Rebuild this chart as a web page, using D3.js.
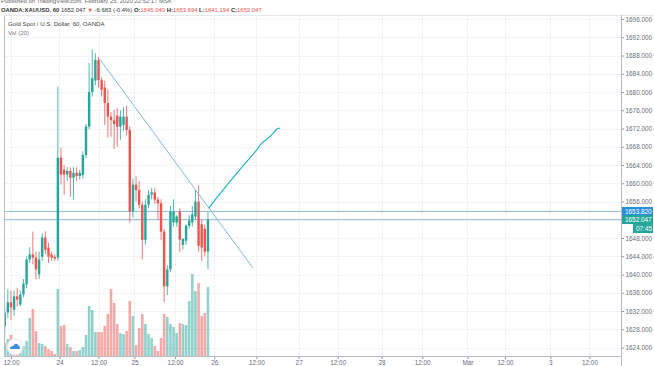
<!DOCTYPE html>
<html>
<head>
<meta charset="utf-8">
<script src="https://cdn.jsdelivr.net/npm/d3@7"></script>
<style>
body { margin: 0; background: #fff; }
text { font-family: "Liberation Sans", Arial, sans-serif; }
</style>
</head>
<body>
<div class="canvas"></div>
<script>
// hourly bars, Feb 21 - Feb 25 2020 (MSK)
const opens  = [1628.6,1631.7,1633.9,1632.3,1635.2,1633.4,1635.6,1637.8,1643.3,1644.4,1643.7,1640.0,1643.9,1648.1,1645.9,1644.4,1643.9,
                1643.7,1665.6,1663.0,1661.9,1662.7,1661.2,1662.3,1661.6,1661.8,1666.2,1672.4,1680.0,1682.5,1687.0,1682.6,1681.0,1677.6,1674.6,1673.8,1674.8,1672.4,1672.8,1674.6,
                1671.7,1653.8,1659.7,1658.5,1655.3,1647.6,1655.3,1657.5,1658.0,1656.4,1655.6,1649.4,1637.4,1641.1,1651.4,1651.4,1653.8,1646.5,1647.4,1650.7,1651.4,1652.7,1656.0,1651.0,1650.0,1645.04];
const highs  = [1633.0,1636.8,1636.5,1636.5,1637.0,1636.5,1639.0,1644.0,1646.0,1649.4,1645.0,1645.0,1649.0,1649.5,1647.0,1645.0,1644.5,
                1681.2,1667.8,1664.0,1663.5,1663.5,1663.5,1663.5,1663.0,1667.0,1673.0,1686.4,1689.4,1688.5,1687.7,1683.2,1682.5,1680.5,1675.6,1676.0,1676.5,1676.0,1676.7,1677.0,
                1672.5,1661.0,1661.5,1660.5,1656.0,1656.5,1658.5,1659.0,1659.0,1657.0,1656.5,1650.0,1642.0,1655.0,1656.5,1653.0,1654.5,1648.0,1651.0,1653.0,1655.0,1658.6,1659.5,1652.0,1651.0,1653.694];
const lows   = [1626.0,1630.5,1630.0,1631.0,1633.0,1633.0,1635.0,1637.0,1642.5,1642.2,1638.9,1639.0,1643.0,1644.5,1642.5,1643.0,1643.0,
                1643.0,1659.7,1657.5,1660.5,1657.0,1656.5,1660.5,1660.8,1661.0,1665.5,1671.8,1679.0,1681.5,1681.0,1679.0,1672.8,1670.0,1670.2,1667.5,1668.0,1669.5,1671.5,1670.5,
                1651.4,1652.5,1656.0,1654.5,1643.3,1646.5,1654.5,1656.5,1655.5,1652.0,1647.5,1633.9,1635.5,1640.5,1650.5,1650.5,1645.0,1645.5,1646.5,1650.0,1650.5,1652.0,1645.0,1643.0,1644.0,1641.194];
const closes = [1631.7,1633.9,1632.8,1635.2,1634.5,1635.6,1638.0,1643.3,1644.4,1643.7,1641.1,1643.3,1648.1,1645.4,1643.9,1643.7,1643.5,
                1665.6,1661.9,1661.9,1662.7,1661.2,1662.3,1661.6,1662.3,1666.2,1672.4,1680.0,1683.0,1687.0,1682.6,1680.5,1677.6,1674.6,1673.8,1673.0,1672.4,1674.6,1674.6,1671.7,
                1653.8,1659.7,1658.5,1655.3,1647.6,1655.3,1657.5,1658.0,1656.4,1655.6,1649.4,1637.4,1641.1,1653.8,1653.8,1652.7,1647.6,1647.8,1650.7,1651.8,1653.2,1656.0,1646.3,1645.9,1645.0,1652.047];
const volumes = [1300,1700,2100,1500,1100,800,1000,1500,3800,4700,2500,1300,1200,1000,700,500,200,
                 6700,3000,3100,1200,900,500,500,600,900,2100,5000,4600,2400,2400,2400,3000,4200,6700,5300,3200,2300,2200,2500,
                 5500,4000,1100,2800,4200,3200,2200,1800,1000,500,1800,4200,3900,3200,2900,2300,3300,3200,3100,5500,8200,6500,7300,4000,4300,6900];

const xTickIdx    = [2, 17.5, 30, 41.5, 54.5, 67, 80.5, 94, 106.5, 120.5, 133.5, 148, 160, 174.5, 187];
const xTickLabels = ['12:00','24','12:00','25','12:00','26','12:00','27','12:00','28','12:00','Mar','12:00','3','12:00'];
const priceTicks  = [1624,1628,1632,1636,1640,1644,1648,1652,1656,1660,1664,1668,1672,1676,1680,1684,1688,1692,1696];

// drawings
const trendLine  = [{i:30.3, p:1687.3}, {i:79.3, p:1641.5}];
const brushPath  = [{i:65.3,p:1654.6},{i:69.9,p:1658.6},{i:75.2,p:1663.0},{i:80.6,p:1667.3},{i:82.2,p:1668.8},
                    {i:83.6,p:1669.5},{i:85.9,p:1671.0},{i:87.0,p:1671.9},{i:88.0,p:1672.1}];
const hLevel     = 1653.820;
const lastPrice  = 1652.047;

const pane = {left:4, right:621, top:15, bottom:356};
const up = '#26a69a', down = '#ef5350';
const axisFont = '6.4px';

const svg = d3.select('.canvas').append('svg')
    .attr('width', 654).attr('height', 366);

svg.append('defs').append('clipPath').attr('id','clip')
  .append('rect').attr('x',pane.left).attr('y',pane.top)
  .attr('width',pane.right-pane.left).attr('height',pane.bottom-pane.top);

const x = d3.scaleLinear().domain([0, 190]).range([4.7, 4.7 + 190*3.127]);
const y = d3.scaleLinear().domain([1624, 1696]).range([347.5, 19]);
const yVol = d3.scaleLinear().domain([0, 9000]).range([pane.bottom, pane.bottom - 90]);

const bars = opens.map((o,i) => ({i, o, h:highs[i], l:lows[i], c:closes[i], v:volumes[i]}));

// grid
const grid = svg.append('g');
grid.selectAll('line.h').data(priceTicks).enter().append('line')
    .attr('x1',pane.left).attr('x2',pane.right)
    .attr('y1',d=>Math.round(y(d))+0.5).attr('y2',d=>Math.round(y(d))+0.5)
    .attr('stroke','#eff2f7');
grid.selectAll('line.v').data(xTickIdx).enter().append('line')
    .attr('x1',d=>Math.round(x(d))+0.5).attr('x2',d=>Math.round(x(d))+0.5)
    .attr('y1',pane.top).attr('y2',pane.bottom)
    .attr('stroke','#eff2f7');

const plot = svg.append('g').attr('clip-path','url(#clip)');

// volume
plot.selectAll('rect.vol').data(bars).enter().append('rect')
    .attr('x', d => x(d.i) - 1.3)
    .attr('width', 2.6)
    .attr('y', d => yVol(d.v))
    .attr('height', d => pane.bottom - yVol(d.v))
    .attr('fill', d => d.c >= d.o ? up : down)
    .attr('opacity', 0.5);

// horizontal levels
plot.append('line').attr('x1',pane.left).attr('x2',pane.right)
    .attr('y1',y(hLevel)).attr('y2',y(hLevel)).attr('stroke','#8fbbdc').attr('stroke-width',1);
plot.append('line').attr('x1',pane.left).attr('x2',pane.right)
    .attr('y1',y(lastPrice)).attr('y2',y(lastPrice)).attr('stroke','#9cc0d8').attr('stroke-width',1);

// candles
plot.selectAll('line.wick').data(bars).enter().append('line')
    .attr('x1', d => x(d.i)).attr('x2', d => x(d.i))
    .attr('y1', d => y(d.h)).attr('y2', d => y(d.l))
    .attr('stroke', d => d.c >= d.o ? up : down).attr('stroke-width', 0.8);
plot.selectAll('rect.body').data(bars).enter().append('rect')
    .attr('x', d => x(d.i) - 1.2)
    .attr('width', 2.4)
    .attr('y', d => y(Math.max(d.o, d.c)))
    .attr('height', d => Math.max(0.8, Math.abs(y(d.o) - y(d.c))))
    .attr('fill', d => d.c >= d.o ? up : down);

// trend line and brush
const line = d3.line().x(d => x(d.i)).y(d => y(d.p));
plot.append('path').attr('d', line(trendLine)).attr('fill','none')
    .attr('stroke','#7cbbe0').attr('stroke-width',1);
plot.append('path').attr('d', line.curve(d3.curveCatmullRom)(brushPath)).attr('fill','none')
    .attr('stroke','#22b5c9').attr('stroke-width',1.2).attr('stroke-linecap','round');

// pane border lines
svg.append('line').attr('x1',pane.left+0.5).attr('x2',pane.left+0.5).attr('y1',pane.top).attr('y2',pane.bottom)
    .attr('stroke','#b8bcc4');
svg.append('line').attr('x1',pane.left).attr('x2',654).attr('y1',pane.top+0.5).attr('y2',pane.top+0.5)
    .attr('stroke','#e6e8ec');

// right axis
const yAxisGroup = svg.append('g').attr('transform',`translate(${pane.right},0)`);
yAxisGroup.call(d3.axisRight(y).tickValues(priceTicks).tickFormat(d3.format('.3f')).tickSize(3).tickPadding(1.5));
yAxisGroup.select('.domain').remove();
yAxisGroup.selectAll('line').attr('stroke','#9598a1');
yAxisGroup.selectAll('text').attr('fill','#6a6d78').style('font-size',axisFont);
svg.append('line').attr('x1',pane.right+0.5).attr('x2',pane.right+0.5).attr('y1',pane.top).attr('y2',366)
    .attr('stroke','#b8bcc4');

// bottom axis
const xAxisGroup = svg.append('g').attr('transform',`translate(0,${pane.bottom})`);
xAxisGroup.call(d3.axisBottom(x).tickValues(xTickIdx).tickFormat((d,k) => xTickLabels[k]).tickSize(3).tickPadding(1));
xAxisGroup.select('.domain').remove();
xAxisGroup.selectAll('line').attr('stroke','#9598a1');
xAxisGroup.selectAll('text').attr('fill','#6a6d78').style('font-size',axisFont);
svg.append('line').attr('x1',pane.left).attr('x2',pane.right).attr('y1',pane.bottom+0.5).attr('y2',pane.bottom+0.5)
    .attr('stroke','#b8bcc4');

// price labels on the axis
const tags = [
  {p:hLevel, t:d3.format('.3f')(hLevel), fill:'#2b8fe0', dy:0, x0:622},
  {p:lastPrice, t:d3.format('.3f')(lastPrice), fill:'#26a69a', dy:0, x0:622},
  {p:lastPrice, t:'07:45', fill:'#26a69a', dy:9, x0:633}
];
const tagG = svg.append('g');
tags.forEach(d => {
  const cy = y(d.p) + d.dy;
  tagG.append('rect').attr('x',d.x0).attr('y',cy-4.5).attr('width',653-d.x0).attr('height',9).attr('fill',d.fill);
  tagG.append('text').attr('x',d.x0+3).attr('y',cy+2.2).attr('fill','#fff').style('font-size',axisFont).text(d.t);
});

// header
const head = svg.append('g');
head.append('text').attr('x',1).attr('y',3).attr('fill','#666').style('font-size','5.9px')
    .text('Published on TradingView.com, February 25, 2020 22:52:17 MSK');
const t2 = head.append('text').attr('x',1).attr('y',11.5).attr('fill','#333').style('font-size','5.9px');
t2.append('tspan').attr('font-weight','bold').text('OANDA:XAUUSD, 60 ');
t2.append('tspan').text('1652.047 ');
t2.append('tspan').attr('fill',down).text('▼ ');
t2.append('tspan').text('-6.683 (-0.4%) ');
[['O:','1645.040'],['H:','1653.694'],['L:','1641.194'],['C:','1652.047']].forEach(([k,v]) => {
  t2.append('tspan').attr('font-weight','bold').text(k);
  t2.append('tspan').attr('fill',down).text(v + ' ');
});
head.append('text').attr('x',8).attr('y',25.5).attr('fill','#444').style('font-size','6.1px')
    .text('Gold Spot / U.S. Dollar, 60, OANDA');
head.append('text').attr('x',8).attr('y',34.5).attr('fill','#777').style('font-size','6.1px').text('Vol (20)');

// logo badge
const logo = svg.append('g').attr('transform','translate(15,347)');
logo.append('circle').attr('r',8).attr('fill','#fff').attr('stroke','#e3e6ea');
logo.append('path').attr('d','M-5,2 C-5,-1 -2,-1 -1.5,-1 C-1,-4 3,-4 3.5,-1 C5.5,-1 5.5,2 4,2 Z').attr('fill','#3b8fe0');
</script>
</body>
</html>
